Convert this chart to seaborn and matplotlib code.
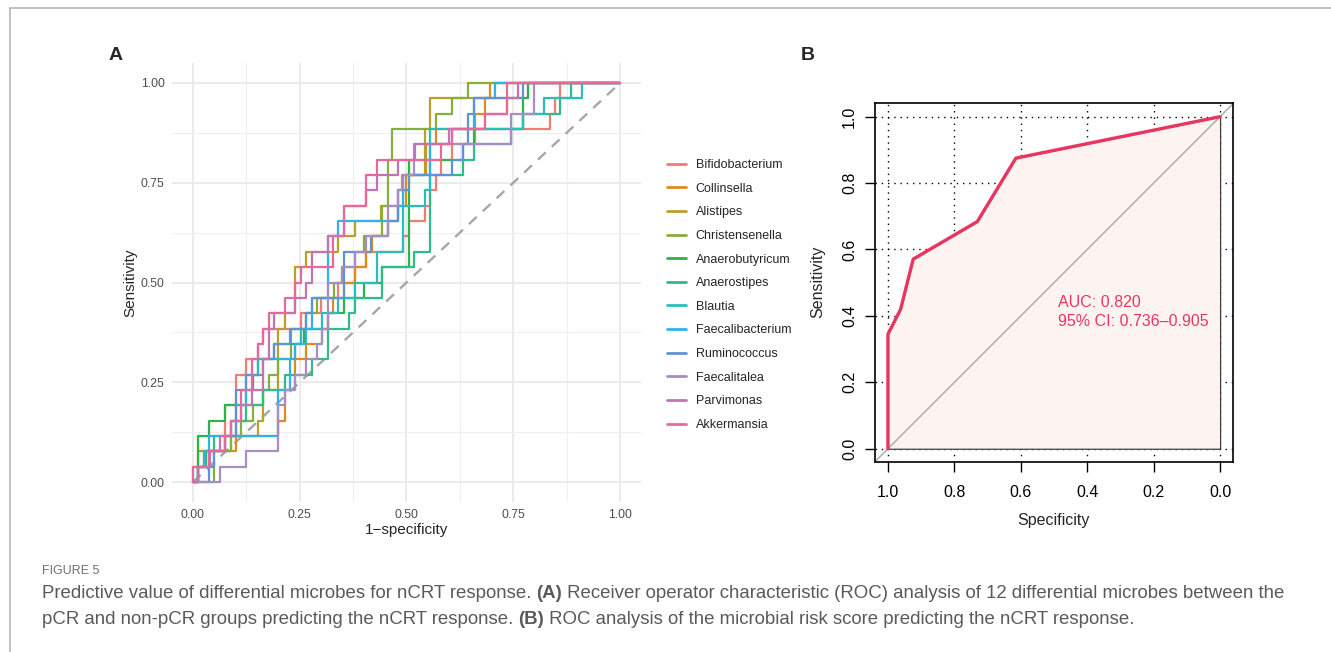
import numpy as np
import pandas as pd
import seaborn as sns
import matplotlib
matplotlib.use("Agg")
import matplotlib.pyplot as plt
from matplotlib.lines import Line2D

# ─────────────────────────────────────────────────────────────
# Daten (Panel A: 12 ROC-Kurven, 26 pCR-Fälle)
# ─────────────────────────────────────────────────────────────

N_POS = 26

microbes = ["Bifidobacterium", "Collinsella", "Alistipes", "Christensenella",
            "Anaerobutyricum", "Anaerostipes", "Blautia", "Faecalibacterium",
            "Ruminococcus", "Faecalitalea", "Parvimonas", "Akkermansia"]

colors = ["#F07C74", "#E08A1E", "#B9A02A", "#86AE3A", "#2DB34A", "#2EBD8A",
          "#2BBCBC", "#2DB2EA", "#6192D6", "#A88CC6", "#C473B2", "#E8689E"]

# Eckpunkte der Treppen: 1-Spezifität und Anzahl richtig positiver
bifido_fpr = [0, 0.012, 0.025, 0.075, 0.075, 0.10, 0.125, 0.153, 0.165, 0.253, 0.30, 0.34, 0.38,
              0.406, 0.492, 0.506, 0.543, 0.556, 0.568, 0.58, 0.606, 0.66, 0.835, 0.848, 0.86]
bifido_tp = [0, 1, 2, 3, 5, 7, 8, 9, 10, 11, 12, 13, 14, 15, 16, 17, 18, 19, 20, 21, 22, 23, 24, 25, 26]

collin_fpr = [0, 0.012, 0.10, 0.20, 0.215, 0.24, 0.265, 0.303, 0.316, 0.328, 0.353, 0.379, 0.406,
              0.42, 0.456, 0.48, 0.50, 0.545, 0.57, 0.66, 0.683, 0.695]
collin_tp = [0, 2, 3, 4, 6, 8, 9, 10, 11, 12, 13, 14, 15, 16, 17, 18, 20, 22, 23, 24, 25, 26]

alist_fpr = [0, 0.012, 0.03, 0.09, 0.153, 0.165, 0.20, 0.215, 0.24, 0.265, 0.34, 0.38, 0.44,
             0.48, 0.49, 0.543, 0.556, 0.785]
alist_tp = [0, 1, 2, 3, 4, 6, 10, 11, 14, 15, 16, 17, 18, 19, 20, 23, 25, 26]

christ_fpr = [0, 0.05, 0.09, 0.113, 0.14, 0.165, 0.178, 0.20, 0.23, 0.265, 0.29, 0.33, 0.35,
              0.38, 0.40, 0.443, 0.456, 0.467, 0.568, 0.606, 0.645]
christ_tp = [0, 2, 3, 4, 5, 6, 7, 8, 10, 11, 12, 13, 14, 15, 16, 18, 21, 23, 24, 25, 26]

anbut_fpr = [0, 0.012, 0.038, 0.075, 0.125, 0.14, 0.153, 0.19, 0.26, 0.316, 0.353, 0.40, 0.443,
             0.506, 0.633, 0.658, 0.772, 0.785]
anbut_tp = [0, 3, 4, 5, 6, 7, 8, 9, 10, 11, 12, 13, 14, 21, 22, 23, 25, 26]

anstip_fpr = [0, 0, 0.03, 0.05, 0.09, 0.125, 0.165, 0.215, 0.278, 0.316, 0.366, 0.379, 0.443,
              0.518, 0.556, 0.633, 0.658, 0.745, 0.772, 0.86, 0.885]
anstip_tp = [0, 1, 2, 3, 4, 5, 6, 7, 8, 10, 11, 12, 14, 15, 20, 21, 22, 23, 24, 25, 26]

blautia_fpr = [0, 0.012, 0.025, 0.075, 0.10, 0.125, 0.153, 0.24, 0.253, 0.303, 0.34, 0.38, 0.43,
               0.492, 0.543, 0.556, 0.772, 0.822, 0.912]
blautia_tp = [0, 1, 2, 3, 5, 7, 8, 9, 10, 11, 12, 13, 15, 18, 19, 23, 24, 25, 26]

faecb_fpr = [0, 0.012, 0.038, 0.20, 0.228, 0.24, 0.265, 0.278, 0.316, 0.34, 0.48, 0.492, 0.556,
             0.606, 0.658, 0.708]
faecb_tp = [0, 1, 3, 6, 8, 9, 10, 12, 16, 17, 18, 20, 22, 23, 25, 26]

rumino_fpr = [0, 0.038, 0.05, 0.075, 0.10, 0.125, 0.165, 0.19, 0.228, 0.265, 0.278, 0.353, 0.417,
              0.456, 0.48, 0.506, 0.606, 0.633, 0.645, 0.658, 0.772]
rumino_tp = [0, 1, 2, 3, 6, 7, 8, 9, 10, 11, 12, 15, 16, 17, 19, 20, 21, 22, 24, 25, 26]

faect_fpr = [0, 0.063, 0.125, 0.20, 0.215, 0.24, 0.265, 0.29, 0.303, 0.316, 0.35, 0.38, 0.406,
             0.456, 0.48, 0.492, 0.518, 0.745, 0.798]
faect_tp = [0, 1, 2, 5, 6, 7, 8, 9, 10, 13, 14, 15, 16, 18, 19, 20, 22, 24, 26]

parvi_fpr = [0, 0.012, 0.04, 0.063, 0.09, 0.113, 0.139, 0.165, 0.178, 0.19, 0.24, 0.265, 0.278,
             0.316, 0.353, 0.406, 0.43, 0.48, 0.52, 0.60, 0.683, 0.735, 0.76]
parvi_tp = [0, 1, 2, 3, 4, 5, 6, 8, 10, 11, 12, 13, 15, 16, 18, 19, 20, 21, 22, 23, 24, 25, 26]

akker_fpr = [0, 0, 0.038, 0.075, 0.09, 0.113, 0.139, 0.153, 0.165, 0.178, 0.215, 0.24, 0.253,
             0.328, 0.353, 0.406, 0.43, 0.58, 0.606, 0.683, 0.735]
akker_tp = [0, 1, 2, 3, 4, 6, 8, 9, 10, 11, 12, 13, 14, 16, 18, 20, 21, 22, 23, 24, 26]

# Panel B: Risikoscore
spec_b = [1.0, 1.0, 0.962, 0.924, 0.731, 0.615, 0.0]
sens_b = [0.0, 0.345, 0.42, 0.571, 0.684, 0.875, 1.0]
auc_text = "AUC: 0.820"
ci_text = "95% CI: 0.736\u20130.905"

caption_title = "FIGURE 5"

# ─────────────────────────────────────────────────────────────
# Long-Format
# ─────────────────────────────────────────────────────────────

fpr_lists = [bifido_fpr, collin_fpr, alist_fpr, christ_fpr, anbut_fpr, anstip_fpr,
             blautia_fpr, faecb_fpr, rumino_fpr, faect_fpr, parvi_fpr, akker_fpr]
tp_lists = [bifido_tp, collin_tp, alist_tp, christ_tp, anbut_tp, anstip_tp,
            blautia_tp, faecb_tp, rumino_tp, faect_tp, parvi_tp, akker_tp]

parts = []
for name, fpr, tp in zip(microbes, fpr_lists, tp_lists):
    parts.append(pd.DataFrame({
        "fpr": list(fpr) + [1.0],
        "tpr": np.array(list(tp) + [N_POS]) / N_POS,
        "microbe": name,
    }))
roc_df = pd.concat(parts, ignore_index=True)

df_b = pd.DataFrame({"spec": spec_b, "sens": sens_b})

# ─────────────────────────────────────────────────────────────
# Plot
# ─────────────────────────────────────────────────────────────

sns.set_style("white")
plt.rcParams["font.family"] = ["Liberation Sans", "DejaVu Sans"]

W, H = 1331, 652
fig = plt.figure(figsize=(W / 100, H / 100), dpi=100)


def fx(px):
    return px / W


def fy(py):
    return 1 - py / H


# ---------- Panel A ----------
axA = fig.add_axes([fx(171.6), fy(502), fx(641.4) - fx(171.6), fy(63) - fy(502)])

sns.lineplot(
    data=roc_df, x="fpr", y="tpr", hue="microbe", hue_order=microbes,
    palette=dict(zip(microbes, colors)), estimator=None, sort=False,
    drawstyle="steps-post", lw=1.6, ax=axA, legend=True
)
axA.plot([0, 1], [0, 1], color="#A6A6A6", lw=1.7, dashes=(4.5, 3.5), zorder=1.5)

axA.set_xlim(-0.05, 1.05)
axA.set_ylim(-0.05, 1.05)
ticks = [0, 0.25, 0.5, 0.75, 1.0]
axA.set_xticks(ticks)
axA.set_yticks(ticks)
axA.set_xticklabels([f"{t:.2f}" for t in ticks])
axA.set_yticklabels([f"{t:.2f}" for t in ticks])
axA.set_xticks([0.125, 0.375, 0.625, 0.875], minor=True)
axA.set_yticks([0.125, 0.375, 0.625, 0.875], minor=True)
axA.grid(True, which="major", color="#EBEBEB", lw=1.4)
axA.grid(True, which="minor", color="#EFEFEF", lw=0.8)
axA.set_axisbelow(True)
for s in axA.spines.values():
    s.set_visible(False)
axA.tick_params(which="both", length=0, labelsize=8.8, labelcolor="#4D4D4D", pad=5)

axA.set_xlabel("1\u2212specificity", fontsize=11)
axA.set_ylabel("Sensitivity", fontsize=11)
axA.xaxis.set_label_coords(0.5, -0.0638)
axA.yaxis.set_label_coords(-0.0886, 0.5)
axA.xaxis.label.set_va("center")
axA.yaxis.label.set_va("center")

handles, labels = axA.get_legend_handles_labels()
for h in handles:
    h.set_linewidth(2.0)
axA.legend(
    handles, labels, loc="upper left", bbox_to_anchor=(fx(667), fy(159)),
    bbox_transform=fig.transFigure, frameon=False, fontsize=9,
    handlelength=1.5, handletextpad=0.8, labelspacing=0.93,
    borderpad=0, borderaxespad=0
)

# ---------- Panel B ----------
axB = fig.add_axes([fx(875), fy(461.7), fx(1232.7) - fx(875), fy(102.7) - fy(461.7)])
axB.set_xlim(1.039, -0.038)
axB.set_ylim(-0.039, 1.042)

axB.fill_between(df_b["spec"], df_b["sens"], 0, facecolor="#FDF4F2",
                 edgecolor="#404040", lw=0.9, zorder=1)
axB.plot([1.039, -0.042], [-0.039, 1.042], color="#A8A8A8", lw=1.0, zorder=2)
sns.lineplot(data=df_b, x="spec", y="sens", sort=False, estimator=None,
             color="#E8365F", lw=2.4, ax=axB, zorder=3)

bt = [1.0, 0.8, 0.6, 0.4, 0.2, 0.0]
axB.set_xticks(bt)
axB.set_yticks(bt)
axB.set_xticklabels([f"{t:.1f}" for t in bt])
axB.set_yticklabels([f"{t:.1f}" for t in bt], rotation=90, va="center")
axB.grid(True, color="black", lw=1.0, linestyle=(0, (1, 3.5)))
axB.set_axisbelow(True)
for s in axB.spines.values():
    s.set_visible(True)
    s.set_color("black")
    s.set_linewidth(1.2)
axB.tick_params(direction="out", length=7, width=1, labelsize=11.5, pad=6,
                bottom=True, left=True, colors="black")
axB.tick_params(axis="x", pad=10)

axB.set_xlabel("Specificity", fontsize=11.5)
axB.set_ylabel("Sensitivity", fontsize=11.5)
axB.xaxis.set_label_coords(0.4977, -0.1624)
axB.yaxis.set_label_coords(-0.159, 0.5)
axB.xaxis.label.set_va("center")
axB.yaxis.label.set_va("center")

axB.text(0.488, 0.439, auc_text, color="#E8365F", fontsize=11.5, va="center", ha="left")
axB.text(0.488, 0.384, ci_text, color="#E8365F", fontsize=11.5, va="center", ha="left")

# ---------- Panel-Buchstaben ----------
fig.text(fx(116), fy(56), "A", fontsize=14, weight="bold", ha="center", va="center")
fig.text(fx(808), fy(56), "B", fontsize=14, weight="bold", ha="center", va="center")

# ---------- Rahmen ----------
fig.add_artist(Line2D([fx(10), 1], [fy(8), fy(8)], transform=fig.transFigure,
                      color="#B5B5B5", lw=1.2))
fig.add_artist(Line2D([fx(10), fx(10)], [0, fy(8)], transform=fig.transFigure,
                      color="#B5B5B5", lw=1.2))

# ---------- Bildunterschrift ----------
cap_font = ["Liberation Sans", "DejaVu Sans"]
fig.text(fx(42), fy(571), caption_title, fontsize=9, color="#707070",
         family=cap_font, va="center")

renderer = fig.canvas.get_renderer()


def draw_runs(x_px, y_px, runs):
    x = fx(x_px)
    for s, weight in runs:
        t = fig.text(x, fy(y_px), s, fontsize=13.45, color="#5A5A5A", weight=weight,
                     family=cap_font, va="center")
        bb = t.get_window_extent(renderer=renderer)
        x += bb.width / fig.bbox.width


draw_runs(42, 594, [
    ("Predictive value of differential microbes for nCRT response. ", "normal"),
    ("(A)", "bold"),
    (" Receiver operator characteristic (ROC) analysis of 12 differential microbes between the", "normal"),
])
draw_runs(42, 619, [
    ("pCR and non-pCR groups predicting the nCRT response. ", "normal"),
    ("(B)", "bold"),
    (" ROC analysis of the microbial risk score predicting the nCRT response.", "normal"),
])

fig.savefig("out.png", dpi=100)
